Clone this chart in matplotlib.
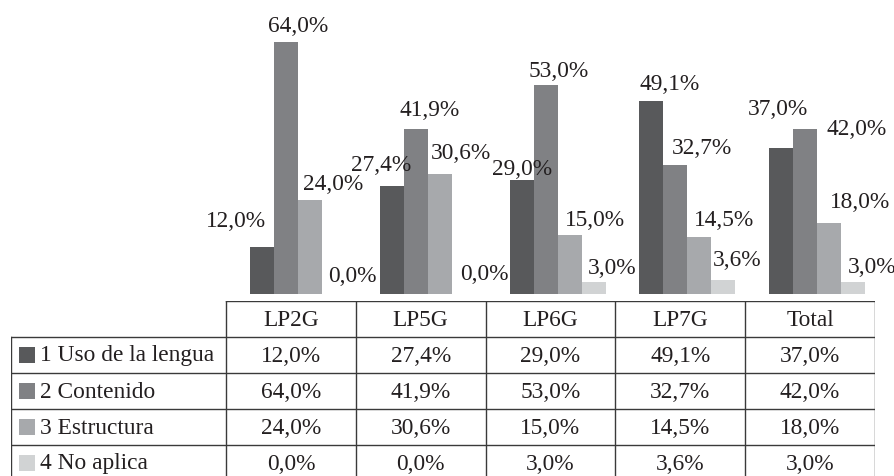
import matplotlib
matplotlib.use('Agg')
import matplotlib.pyplot as plt
import numpy as np
from matplotlib.patches import Rectangle

categories = ['LP2G', 'LP5G', 'LP6G', 'LP7G', 'Total']
series_names = ['1 Uso de la lengua', '2 Contenido', '3 Estructura', '4 No aplica']
uso = [12.0, 27.4, 29.0, 49.1, 37.0]
contenido = [64.0, 41.9, 53.0, 32.7, 42.0]
estructura = [24.0, 30.6, 15.0, 14.5, 18.0]
no_aplica = [0.0, 0.0, 3.0, 3.6, 3.0]
series = [uso, contenido, estructura, no_aplica]

colors = ['#58595b', '#808184', '#a7a9ac', '#d1d3d4']

# label placement (pixels from bar top centre), as in the original layout
label_offsets = [
    [(-26, 26), (-11, 22), (0, 11), (18, 17), (-3, 40)],
    [(12, 16), (14, 20), (13, 15), (27, 18), (51, 0)],
    [(23, 16), (21, 21), (25, 15), (25, 17), (31, 22)],
    [(18, 18), (21, 20), (18, 15), (14, 20), (19, 16)],
]

plt.rcParams['font.family'] = ['Liberation Serif', 'DejaVu Serif']
plt.rcParams['font.size'] = 16.8

W, H = 895, 477
fig = plt.figure(figsize=(W / 100, H / 100), dpi=100)

def fmt(v):
    return f"{v:.1f}%".replace('.', ',')

# bar area
ax = fig.add_axes([226 / W, 1 - 295 / H, 649 / W, 295 / H])
x = np.arange(len(categories))
bw = 0.185
shift = 0.055
for k, vals in enumerate(series):
    xs = x + shift + (k - 1.5) * bw
    ax.bar(xs, vals, width=bw, color=colors[k], linewidth=0)
    for xi, v, (dx, dy) in zip(xs, vals, label_offsets[k]):
        ax.annotate(fmt(v), xy=(xi, v), xytext=(dx, dy), textcoords='offset pixels',
                    ha='center', va='center', color='#231f20')
ax.set_xlim(-0.5, 4.5)
ax.set_ylim(0, 295 / 3.9375)
ax.axis('off')

# data table
lab_w = 215 / 129.8
tax = fig.add_axes([11 / W, 1 - 482 / H, 864 / W, 180 / H])
tax.set_xlim(-0.5 - lab_w, 4.5)
tax.set_ylim(5, 0)
tax.axis('off')
line_kw = dict(color='#3a3a3a', lw=1.0)
left = -0.5 - lab_w
tax.plot([-0.5, 4.5], [0, 0], **line_kw)
for r in range(1, 5):
    tax.plot([left, 4.5], [r, r], **line_kw)
tax.plot([left, left], [1, 5], **line_kw)
for c in range(6):
    tax.plot([c - 0.5, c - 0.5], [0, 5], **line_kw)

for i, cat in enumerate(categories):
    tax.text(i, 0.5, cat, ha='center', va='center', color='#231f20')
for k, vals in enumerate(series):
    r = k + 1
    sq_w = 16 / 129.8
    tax.add_patch(Rectangle((left + 8 / 129.8, r + 0.5 - 8 / 36), sq_w, 16 / 36,
                            color=colors[k], lw=0))
    tax.text(left + 29 / 129.8, r + 0.5, series_names[k], ha='left', va='center',
             color='#231f20')
    for i, v in enumerate(vals):
        tax.text(i, r + 0.5, fmt(v), ha='center', va='center', color='#231f20')

fig.savefig('out.png', dpi=100)
